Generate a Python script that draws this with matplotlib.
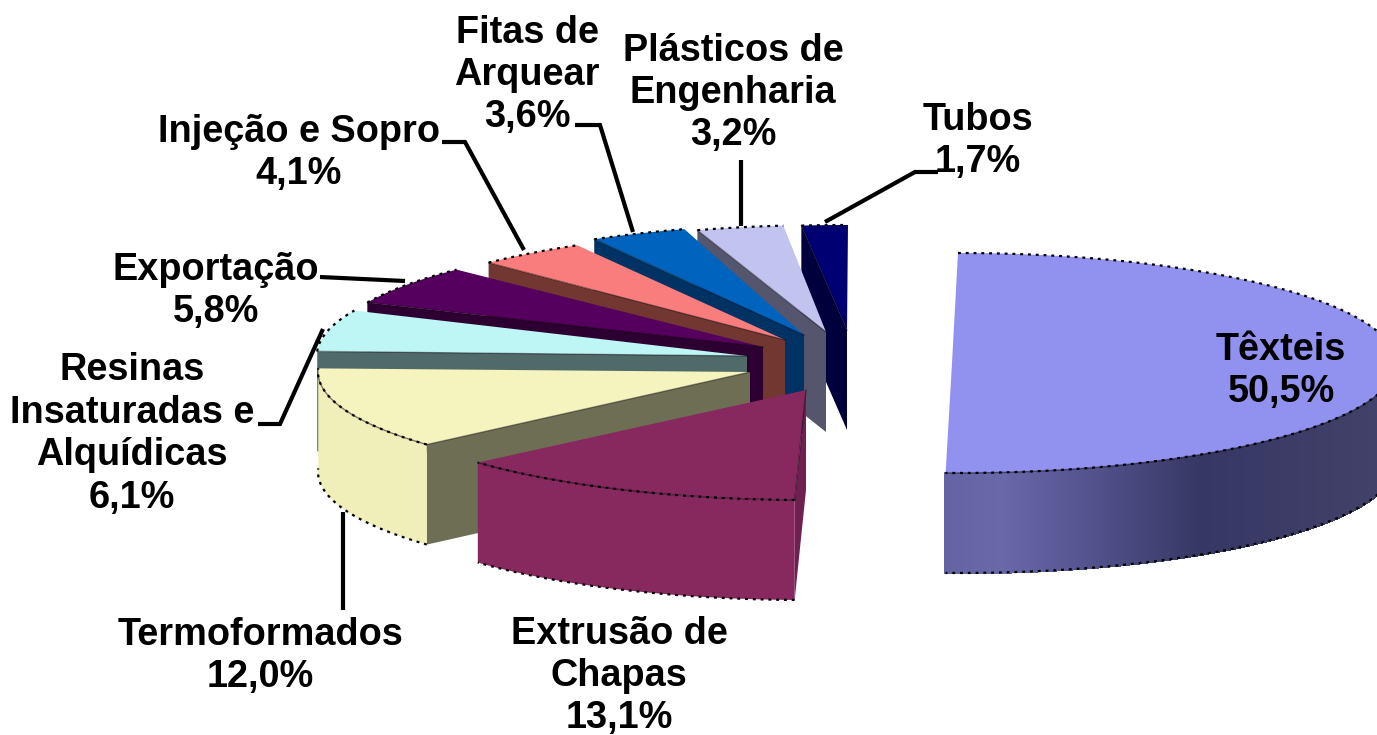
import numpy as np
import matplotlib
matplotlib.use("Agg")
import matplotlib.pyplot as plt
from matplotlib.patches import Polygon

# --- data (clockwise from 12 o'clock) ---
labels = ["Têxteis\n50,5%", "Extrusão de\nChapas\n13,1%", "Termoformados\n12,0%",
          "Resinas\nInsaturadas e\nAlquídicas\n6,1%", "Exportação\n5,8%",
          "Injeção e Sopro\n4,1%", "Fitas de\nArquear\n3,6%",
          "Plásticos de\nEngenharia\n3,2%", "Tubos\n1,7%"]
values = [50.5, 13.1, 12.0, 6.1, 5.8, 4.1, 3.6, 3.2, 1.7]

# --- layout / style ---
RX, RY, DEPTH = 438, 110, 100
centers = [(958, 363), (807, 390), (756, 372), (755, 355), (768, 347),
           (800, 340), (817, 334), (830, 335), (848, 335)]
apexes = [(952, 363), (806, 390), (750, 372), (747, 356), (763, 347),
          (785, 340), (804, 335), (826, 332), (847, 330)]
top_col = ["#9191F0", "#87285F", "#F5F3BE", "#BEF5F5", "#55005F",
           "#FA7D7D", "#0064BE", "#C3C3F0", "#000073"]
rim_col = ["#6868A8", "#87285F", "#F0EEB9", "#6E9090", "#2D0032",
           "#733732", "#003264", "#55556E", "#00003C"]
face_col = ["#6868A8", "#6E2050", "#6E6E55", "#506969", "#2D0032",
            "#733732", "#003264", "#55556E", "#00003C"]
label_pos = [(1281, 371), (619, 676), (260, 656), (132, 434), (216, 291),
             (299, 153), (527, 75), (733, 93), (978, 141)]
leaders = [[(825, 222), (915, 172), (938, 172)],
           [(741, 226), (741, 160)],
           [(633, 232), (600, 125), (575, 125)],
           [(524, 250), (465, 142), (442, 142)],
           [(405, 281), (320, 277)],
           [(323, 329), (280, 424), (258, 424)],
           [(343, 512), (343, 610)]]
grad_x = [946, 1000, 1080, 1200, 1377]
grad_rgb = np.array([[100, 100, 165], [105, 105, 170], [85, 85, 145],
                     [55, 55, 100], [65, 65, 105]]) / 255

fig = plt.figure(figsize=(13.77, 7.35), dpi=100)
ax = fig.add_axes([0, 0, 1, 1])
ax.set_xlim(0, 1377)
ax.set_ylim(735, 0)
ax.axis("off")

edges = np.cumsum([0] + values) / sum(values) * 360


def pt(c, th):
    th = np.radians(th)
    return c[0] + RX * np.sin(th), c[1] - RY * np.cos(th)


def dotted(xs, ys, z):
    ax.plot(xs, ys, color="black", lw=1.6, ls=(0, (1.3, 2.2)), zorder=z,
            solid_capstyle="butt")


order = [0] + list(range(len(values) - 1, 0, -1))
for z, i in enumerate(order):
    t0, t1 = edges[i], edges[i + 1]
    c = centers[i]
    ap = apexes[i]
    zb = 2 + z
    # radial cut face
    if t0 > 180:
        px, py = pt(c, t0)
        ax.add_patch(Polygon([ap, (px, py), (px, py + DEPTH), (ap[0], ap[1] + DEPTH)],
                             fc=face_col[i], ec="none", zorder=zb))
    # outer rim (front half only)
    a0, a1 = max(t0, 90), t1
    if t0 < 270 and a1 > a0:
        th = np.linspace(a0, a1, 241)
        xs, ys = pt(c, th)
        if i == 0:
            for k in range(len(th) - 1):
                col = [np.interp((xs[k] + xs[k + 1]) / 2, grad_x, grad_rgb[:, n]) for n in range(3)]
                ax.add_patch(Polygon([(xs[k], ys[k]), (xs[k + 1], ys[k + 1]),
                                      (xs[k + 1], ys[k + 1] + DEPTH), (xs[k], ys[k] + DEPTH)],
                                     fc=col, ec=col, lw=1.2, antialiased=False, zorder=zb))
        else:
            ax.add_patch(Polygon(list(zip(xs, ys)) + list(zip(xs[::-1], ys[::-1] + DEPTH)),
                                 fc=rim_col[i], ec="none", zorder=zb))
        dotted(xs, ys + DEPTH, zb + 0.1)
        ax.plot(xs, ys, color=(0, 0, 0, 0.45), lw=1, zorder=zb + 0.3)
    # top surface
    th = np.linspace(t0, t1, 121)
    xs, ys = pt(c, th)
    ax.add_patch(Polygon([ap] + list(zip(xs, ys)), fc=top_col[i], ec="none", zorder=zb + 0.2))
    dotted(xs, ys, zb + 0.3)
    if t0 > 180:
        px, py = pt(c, t0)
        ax.plot([ap[0], px], [ap[1], py], color=(0, 0, 0, 0.4), lw=1, zorder=zb + 0.3)

for pts in leaders:
    a = np.array(pts)
    ax.plot(a[:, 0], a[:, 1], color="black", lw=3.0, solid_joinstyle="miter",
            solid_capstyle="butt", zorder=30)

for s, (x, y) in zip(labels, label_pos):
    ax.text(x, y, s, ha="center", va="center", family="Liberation Sans",
            weight="bold", fontsize=27.3, linespacing=1.23, color="black", zorder=40)

fig.savefig("out.png", dpi=100, facecolor="white")
